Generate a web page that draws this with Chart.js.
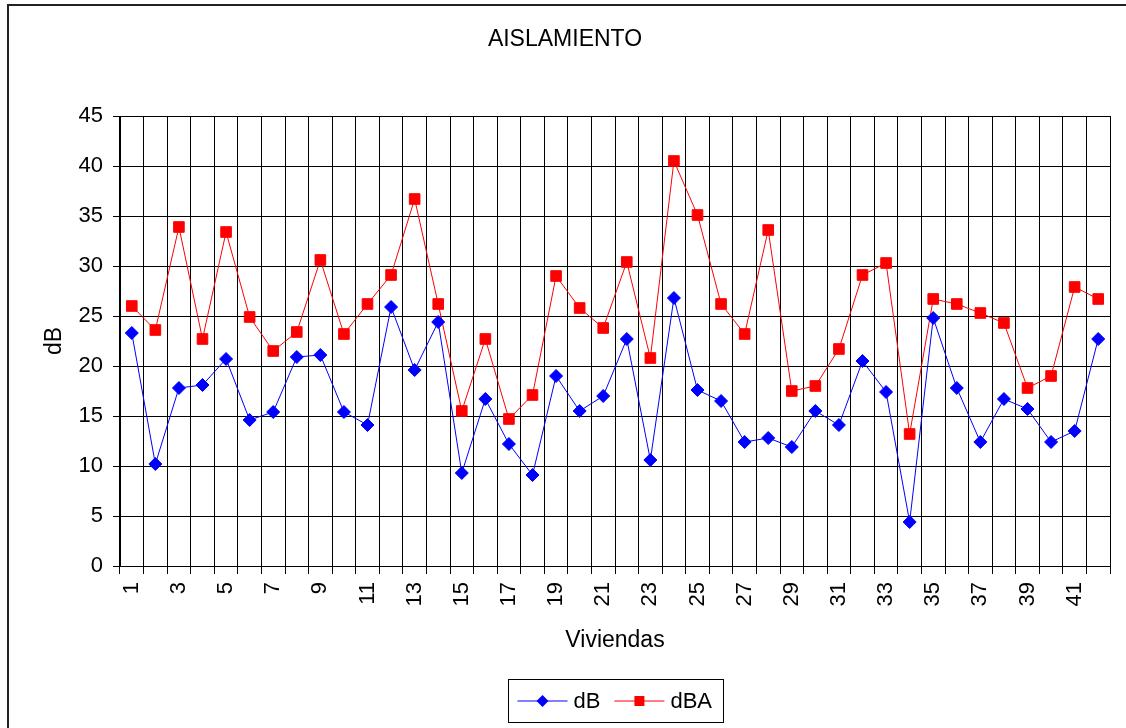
<!DOCTYPE html>
<html>
<head>
<meta charset="utf-8">
<script src="https://cdn.jsdelivr.net/npm/chart.js@4/dist/chart.umd.min.js"></script>
<style>
  html, body { margin: 0; padding: 0; background: #fff; }
  canvas { display: block; }
</style>
</head>
<body>
<canvas id="chart" width="1126" height="728"></canvas>
<script>
// viviendas 1..42
var viviendas = [];
for (var i = 1; i <= 42; i++) { viviendas.push(String(i)); }

var dB = [23.3, 10.2, 17.8, 18.1, 20.7, 14.6, 15.4, 20.9, 21.1, 15.4,
          14.1, 25.9, 19.6, 24.4, 9.3, 16.7, 12.2, 9.1, 19.0, 15.5,
          17.0, 22.7, 10.6, 26.8, 17.6, 16.5, 12.4, 12.8, 11.9, 15.5,
          14.1, 20.5, 17.4, 4.4, 24.8, 17.8, 12.4, 16.7, 15.7, 12.4,
          13.5, 22.7];

var dBA = [26.0, 23.6, 33.9, 22.7, 33.4, 24.9, 21.5, 23.4, 30.6, 23.2,
           26.2, 29.1, 36.7, 26.2, 15.5, 22.7, 14.7, 17.1, 29.0, 25.8,
           23.8, 30.4, 20.8, 40.5, 35.1, 26.2, 23.2, 33.6, 17.5, 18.0,
           21.7, 29.1, 30.3, 13.2, 26.7, 26.2, 25.3, 24.3, 17.8, 19.0,
           27.9, 26.7];

var yTicks = { min: 0, max: 45, step: 5 };

Chart.defaults.font.family = 'Arial, "Liberation Sans", sans-serif';
Chart.defaults.color = '#000';

// outer frame of the chart object
var framePlugin = {
    id: 'frame',
    beforeDraw: function(chart){
        var ctx = chart.ctx;
        ctx.save();
        ctx.fillStyle = '#fff';
        ctx.fillRect(0, 0, chart.width, chart.height);
        ctx.strokeStyle = '#222';
        ctx.lineWidth = 2;
        ctx.strokeRect(8, 5, chart.width + 20, chart.height + 20);
        ctx.restore();
    }
};

// legend drawn by hand: line with marker, boxed
var legendPlugin = {
    id: 'boxLegend',
    afterDraw: function(chart){
        var ctx = chart.ctx;
        var area = chart.chartArea;
        var w = 215, h = 43;
        var x0 = Math.round((area.left + area.right) / 2 - w / 2) + 0.5;
        var y0 = 679.5;
        ctx.save();
        ctx.strokeStyle = '#000';
        ctx.lineWidth = 1;
        ctx.strokeRect(x0, y0, w, h);
        ctx.font = '22px Arial, "Liberation Sans", sans-serif';
        ctx.textBaseline = 'middle';
        ctx.fillStyle = '#000';

        var cy = y0 + h / 2;
        var x = x0 + 9;
        chart.data.datasets.forEach(function(ds){
            ctx.strokeStyle = ds.borderColor;
            ctx.lineWidth = 1;
            ctx.beginPath();
            ctx.moveTo(x, cy);
            ctx.lineTo(x + 50, cy);
            ctx.stroke();
            ctx.fillStyle = ds.backgroundColor;
            var mx = x + 25;
            ctx.beginPath();
            if (ds.pointStyle == 'rectRot') {
                var r = 6;
                ctx.moveTo(mx - r, cy); ctx.lineTo(mx, cy - r);
                ctx.lineTo(mx + r, cy); ctx.lineTo(mx, cy + r);
                ctx.closePath();
            } else {
                ctx.rect(mx - 5, cy - 5, 10, 10);
            }
            ctx.fill();
            ctx.fillStyle = '#000';
            ctx.fillText(ds.label, x + 56, cy + 1);
            x += 56 + ctx.measureText(ds.label).width + 14;
        });
        ctx.restore();
    }
};

var ctx = document.getElementById('chart').getContext('2d');
var myChart = new Chart(ctx, {
    type: 'line',
    data: {
        labels: viviendas,
        datasets: [{
            label: 'dB',
            data: dB,
            borderColor: '#0000FF',
            backgroundColor: '#0000FF',
            borderWidth: 1,
            pointStyle: 'rectRot',
            pointRadius: 6.5,
            pointBorderWidth: 1,
            tension: 0
        }, {
            label: 'dBA',
            data: dBA,
            borderColor: '#FF0000',
            backgroundColor: '#FF0000',
            borderWidth: 1,
            pointStyle: 'rect',
            pointRadius: 7.5,
            pointBorderWidth: 1,
            tension: 0
        }]
    },
    options: {
        responsive: false,
        animation: false,
        layout: {
            padding: { top: 5, left: 20, right: 16, bottom: 71 }
        },
        plugins: {
            legend: { display: false },
            tooltip: { enabled: false },
            title: {
                display: true,
                text: 'AISLAMIENTO',
                font: { size: 23, weight: 'normal' },
                color: '#000',
                padding: { top: 21, bottom: 62.4 }
            }
        },
        scales: {
            x: {
                type: 'category',
                offset: true,
                grid: {
                    offset: true,
                    color: '#000',
                    lineWidth: 1,
                    tickLength: 8,
                    drawTicks: true
                },
                border: { color: '#000', width: 1 },
                ticks: {
                    autoSkip: false,
                    minRotation: 90,
                    maxRotation: 90,
                    padding: 8,
                    font: { size: 22 },
                    color: '#000',
                    callback: function(value, index){
                        return index % 2 == 0 ? this.getLabelForValue(value) : '';
                    }
                },
                title: {
                    display: true,
                    text: 'Viviendas',
                    font: { size: 23 },
                    color: '#000',
                    padding: { top: 0, bottom: 3 }
                },
                afterFit: function(scale){
                    scale.height = 657 - 566;
                    scale.paddingLeft = 0;
                    scale.paddingRight = 0;
                }
            },
            y: {
                min: yTicks.min,
                max: yTicks.max,
                grid: {
                    color: '#000',
                    lineWidth: 1,
                    tickLength: 7
                },
                border: { color: '#000', width: 1 },
                ticks: {
                    stepSize: yTicks.step,
                    padding: 10,
                    font: { size: 22 },
                    color: '#000'
                },
                title: {
                    display: true,
                    text: 'dB',
                    font: { size: 23 },
                    color: '#000',
                    padding: { top: 21, bottom: 0 }
                },
                afterFit: function(scale){ scale.width = 120 - 20; }
            }
        }
    },
    plugins: [framePlugin, legendPlugin]
});
</script>
</body>
</html>
